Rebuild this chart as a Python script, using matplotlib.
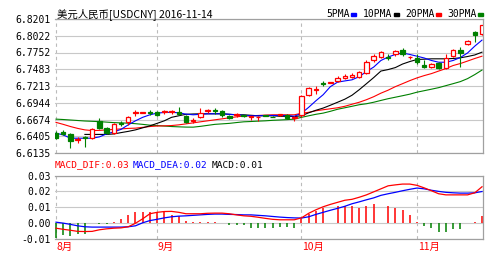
import numpy as np
import matplotlib
matplotlib.use("Agg")
import matplotlib.pyplot as plt
from matplotlib.patches import Rectangle

# ---- data (USDCNY daily, 2016-08-12 .. 2016-11-14) ----
months = ["8月", "9月", "10月", "11月"]
month_start = [0, 14, 34, 50]

opens = [6.6459, 6.6475, 6.6442, 6.6337, 6.6386, 6.6378, 6.6653, 6.6540, 6.6459, 6.6620,
         6.6637, 6.6774, 6.6777, 6.6790, 6.6798, 6.6790, 6.6790, 6.6798, 6.6734, 6.6645,
         6.6717, 6.6806, 6.6823, 6.6815, 6.6734, 6.6742, 6.6742, 6.6709, 6.6713, 6.6739,
         6.6722, 6.6745, 6.6750, 6.6693, 6.6750, 6.7073, 6.7146, 6.7260, 6.7263, 6.7300,
         6.7349, 6.7365, 6.7365, 6.7429, 6.7624, 6.7688, 6.7680, 6.7721, 6.7785, 6.7680,
         6.7672, 6.7559, 6.7527, 6.7591, 6.7510, 6.7704, 6.7785, 6.7882, 6.8077, 6.8044]
highs = [6.6491, 6.6507, 6.6459, 6.6394, 6.6410, 6.6540, 6.6701, 6.6556, 6.6620, 6.6653,
         6.6734, 6.6831, 6.6787, 6.6831, 6.6815, 6.6831, 6.6831, 6.6879, 6.6750, 6.6701,
         6.6863, 6.6847, 6.6863, 6.6831, 6.6750, 6.6782, 6.6750, 6.6734, 6.6726, 6.6742,
         6.6726, 6.6758, 6.6766, 6.6734, 6.7073, 6.7203, 6.7219, 6.7300, 6.7276, 6.7381,
         6.7413, 6.7429, 6.7462, 6.7624, 6.7721, 6.7769, 6.7721, 6.7785, 6.7818, 6.7696,
         6.7721, 6.7624, 6.7591, 6.7607, 6.7721, 6.7802, 6.7834, 6.7947, 6.8093, 6.8201]
lows = [6.6362, 6.6426, 6.6216, 6.6297, 6.6232, 6.6362, 6.6523, 6.6442, 6.6442, 6.6572,
        6.6588, 6.6734, 6.6774, 6.6750, 6.6734, 6.6766, 6.6766, 6.6750, 6.6620, 6.6620,
        6.6701, 6.6782, 6.6766, 6.6717, 6.6685, 6.6717, 6.6717, 6.6669, 6.6653, 6.6726,
        6.6709, 6.6734, 6.6685, 6.6653, 6.6717, 6.7057, 6.7090, 6.7219, 6.7260, 6.7284,
        6.7332, 6.7349, 6.7349, 6.7413, 6.7607, 6.7672, 6.7624, 6.7704, 6.7704, 6.7656,
        6.7575, 6.7510, 6.7510, 6.7494, 6.7494, 6.7688, 6.7527, 6.7866, 6.7915, 6.8028]
closes = [6.6378, 6.6434, 6.6329, 6.6353, 6.6370, 6.6523, 6.6540, 6.6459, 6.6604, 6.6604,
          6.6717, 6.6790, 6.6787, 6.6774, 6.6750, 6.6806, 6.6806, 6.6766, 6.6637, 6.6661,
          6.6782, 6.6823, 6.6806, 6.6750, 6.6701, 6.6758, 6.6726, 6.6726, 6.6722, 6.6729,
          6.6713, 6.6755, 6.6701, 6.6709, 6.7057, 6.7187, 6.7162, 6.7243, 6.7273, 6.7349,
          6.7381, 6.7397, 6.7446, 6.7607, 6.7704, 6.7753, 6.7664, 6.7769, 6.7721, 6.7688,
          6.7607, 6.7527, 6.7575, 6.7510, 6.7672, 6.7785, 6.7737, 6.7931, 6.8028, 6.8195]

ma5 = [6.6454, 6.6426, 6.6373, 6.6373, 6.6373, 6.6373, 6.6394, 6.6442, 6.6475, 6.6515,
       6.6588, 6.6653, 6.6709, 6.6750, 6.6777, 6.6787, 6.6790, 6.6782, 6.6761, 6.6750,
       6.6758, 6.6766, 6.6766, 6.6766, 6.6758, 6.6750, 6.6742, 6.6734, 6.6734, 6.6739,
       6.6739, 6.6739, 6.6739, 6.6726, 6.6774, 6.6871, 6.6976, 6.7073, 6.7203, 6.7276,
       6.7295, 6.7313, 6.7365, 6.7446, 6.7518, 6.7624, 6.7680, 6.7721, 6.7745, 6.7721,
       6.7693, 6.7664, 6.7624, 6.7596, 6.7596, 6.7624, 6.7672, 6.7745, 6.7855, 6.7952]
ma10 = [np.nan, np.nan, np.nan, np.nan, 6.6434, 6.6434, 6.6434, 6.6434, 6.6442, 6.6463,
        6.6483, 6.6507, 6.6540, 6.6572, 6.6612, 6.6653, 6.6709, 6.6734, 6.6758, 6.6763,
        6.6766, 6.6766, 6.6766, 6.6766, 6.6758, 6.6750, 6.6750, 6.6742, 6.6734, 6.6734,
        6.6734, 6.6726, 6.6726, 6.6722, 6.6734, 6.6782, 6.6823, 6.6858, 6.6904, 6.6952,
        6.7001, 6.7065, 6.7154, 6.7251, 6.7349, 6.7454, 6.7478, 6.7510, 6.7567, 6.7607,
        6.7640, 6.7645, 6.7651, 6.7651, 6.7651, 6.7656, 6.7667, 6.7688, 6.7713, 6.7758]
ma20 = [6.6628, 6.6596, 6.6561, 6.6531, 6.6507, 6.6496, 6.6499, 6.6507, 6.6515, 6.6523,
        6.6531, 6.6535, 6.6548, 6.6561, 6.6569, 6.6572, 6.6577, 6.6588, 6.6604, 6.6620,
        6.6637, 6.6653, 6.6669, 6.6685, 6.6701, 6.6717, 6.6729, 6.6734, 6.6739, 6.6745,
        6.6750, 6.6750, 6.6750, 6.6750, 6.6774, 6.6790, 6.6815, 6.6831, 6.6847, 6.6863,
        6.6887, 6.6920, 6.6952, 6.6993, 6.7041, 6.7098, 6.7146, 6.7203, 6.7251, 6.7300,
        6.7344, 6.7381, 6.7413, 6.7454, 6.7494, 6.7543, 6.7575, 6.7615, 6.7656, 6.7693]
ma30 = [6.6680, 6.6674, 6.6666, 6.6658, 6.6650, 6.6645, 6.6640, 6.6632, 6.6624, 6.6620,
        6.6615, 6.6607, 6.6596, 6.6583, 6.6577, 6.6569, 6.6561, 6.6556, 6.6552, 6.6551,
        6.6564, 6.6580, 6.6596, 6.6604, 6.6612, 6.6625, 6.6637, 6.6642, 6.6648, 6.6653,
        6.6661, 6.6666, 6.6672, 6.6680, 6.6709, 6.6734, 6.6758, 6.6777, 6.6806, 6.6839,
        6.6863, 6.6887, 6.6912, 6.6928, 6.6952, 6.6981, 6.7009, 6.7033, 6.7057, 6.7082,
        6.7114, 6.7138, 6.7162, 6.7187, 6.7219, 6.7251, 6.7284, 6.7332, 6.7397, 6.7470]

dif = [-0.0032, -0.0039, -0.0045, -0.0052, -0.0053, -0.0052, -0.0042, -0.0036, -0.0032, -0.0030,
       -0.0023, -0.0001, 0.0027, 0.0059, 0.0068, 0.0073, 0.0074, 0.0068, 0.0059, 0.0059,
       0.0059, 0.0062, 0.0063, 0.0063, 0.0059, 0.0052, 0.0046, 0.0043, 0.0037, 0.0030,
       0.0024, 0.0021, 0.0021, 0.0021, 0.0033, 0.0062, 0.0084, 0.0103, 0.0118, 0.0131,
       0.0144, 0.0150, 0.0163, 0.0178, 0.0197, 0.0216, 0.0235, 0.0241, 0.0246, 0.0246,
       0.0238, 0.0222, 0.0204, 0.0185, 0.0178, 0.0178, 0.0178, 0.0178, 0.0191, 0.0229]
dea = [0.0006, 0.0000, -0.0008, -0.0017, -0.0023, -0.0025, -0.0025, -0.0025, -0.0025, -0.0025,
       -0.0023, -0.0017, 0.0002, 0.0016, 0.0024, 0.0033, 0.0040, 0.0044, 0.0046, 0.0049,
       0.0052, 0.0055, 0.0057, 0.0057, 0.0055, 0.0054, 0.0052, 0.0052, 0.0049, 0.0046,
       0.0042, 0.0038, 0.0035, 0.0033, 0.0032, 0.0040, 0.0055, 0.0068, 0.0081, 0.0093,
       0.0106, 0.0122, 0.0134, 0.0147, 0.0159, 0.0175, 0.0185, 0.0194, 0.0204, 0.0213,
       0.0221, 0.0216, 0.0207, 0.0200, 0.0194, 0.0191, 0.0189, 0.0189, 0.0191, 0.0199]
macd = [-0.0093, -0.0077, -0.0083, -0.0071, -0.0071, 0.0, -0.0008, -0.0008, 0.0010, 0.0025,
        0.0052, 0.0073, 0.0068, 0.0073, 0.0073, 0.0073, 0.0052, 0.0042, 0.0016, 0.0006,
        0.0010, 0.0010, 0.0010, np.nan, -0.0011, -0.0011, -0.0014, -0.0032, -0.0028, -0.0028,
        -0.0028, -0.0025, -0.0025, -0.0028, 0.0024, 0.0059, 0.0078, 0.0095, np.nan, 0.0109,
        0.0106, 0.0105, 0.0096, 0.0105, 0.0120, np.nan, 0.0105, 0.0095, 0.0084, 0.0052,
        0.0010, -0.0017, -0.0032, -0.0059, -0.0053, -0.0036, -0.0036, np.nan, 0.0010, 0.0046]

price_labels = ["6.6135", "6.6405", "6.6674", "6.6944", "6.7213",
                "6.7483", "6.7752", "6.8022", "6.8201"]
macd_labels = ["-0.01", "0.00", "0.01", "0.02", "0.03"]

RED = "#FF0000"
GREEN = "#008000"
BLUE = "#0000FF"
GRID = "#C8C8C8"
FRAME = "#A0A0A0"
MONO = ["DejaVu Sans Mono", "Noto Sans CJK SC"]
CJK = ["Noto Sans CJK SC", "DejaVu Sans"]

W, H = 500, 256
fig = plt.figure(figsize=(W / 100, H / 100), dpi=100)
fig.patch.set_facecolor("white")


def fx(px):
    return px / W


def fy(py):
    return 1 - py / H


ax = fig.add_axes([fx(55), fy(153), fx(428), 134 / H])
ax2 = fig.add_axes([fx(55), fy(239), fx(428), 63.5 / H])

x = np.arange(len(closes))
o, h, l, c = map(np.asarray, (opens, highs, lows, closes))
up = c >= o

step = 0.02696
ax.set_ylim(6.6135, 6.6135 + 8 * step)
ax.set_xlim(-0.14, 59.14)
ax2.set_xlim(-0.14, 59.14)
ax2.set_ylim(-0.01, 0.03)

for a in (ax, ax2):
    a.set_facecolor("white")
    for s in a.spines.values():
        s.set_color(FRAME)
        s.set_linewidth(0.9)
    a.spines["left"].set_visible(False)
    a.tick_params(length=0, pad=3, labelsize=7)
    a.set_xticks([])
    for m in month_start:
        a.axvline(m, color="#BBBBBB", lw=0.8, ls=(0, (3, 3)), zorder=1)

ax.set_yticks([6.6135 + k * step for k in range(9)])
ax.set_yticklabels(price_labels, family=MONO)
ax.grid(axis="y", color=GRID, lw=0.8, zorder=0)

ax2.set_yticks([-0.01, 0.0, 0.01, 0.02, 0.03])
ax2.set_yticklabels(macd_labels, family=MONO)
ax2.grid(axis="y", color=GRID, lw=0.8, zorder=0)

# moving averages
ax.plot(x, ma30, color=GREEN, lw=0.8, zorder=2)
ax.plot(x, ma20, color=RED, lw=0.8, zorder=2)
ax.plot(x, ma10, color="black", lw=0.8, zorder=2)
ax.plot(x, ma5, color=BLUE, lw=0.8, zorder=2)

# candles
ax.vlines(x, l, h, colors=np.where(up, RED, GREEN), lw=0.8, zorder=3)
lo = np.minimum(o, c)
ht = np.abs(c - o)
ax.bar(x[up], ht[up], bottom=lo[up], width=0.62, facecolor="white",
       edgecolor=RED, lw=0.9, zorder=4)
ax.bar(x[~up], ht[~up], bottom=lo[~up], width=0.62, facecolor=GREEN,
       edgecolor=GREEN, lw=0.9, zorder=4)

# MACD panel
mv = np.asarray(macd)
ax2.vlines(x, 0, mv, colors=np.where(mv >= 0, RED, GREEN), lw=1.1, zorder=2)
ax2.plot(x, dea, color=BLUE, lw=0.9, zorder=3)
ax2.plot(x, dif, color=RED, lw=0.9, zorder=3)

# month labels
for m, name in zip(month_start, months):
    ax2.text(m + 0.1, -0.0153, name, color=RED, fontsize=7.5, family=CJK,
             ha="left", va="center", transform=ax2.transData, clip_on=False)

# title and legend
fig.text(fx(57), fy(14), "美元人民币[USDCNY] 2016-11-14", fontsize=7.5,
         family=CJK, va="center", ha="left")
legend = [("5PMA", BLUE, 326), ("10PMA", "black", 363),
          ("20PMA", RED, 405), ("30PMA", GREEN, 447)]
for name, col, px in legend:
    fig.text(fx(px), fy(14), name, fontsize=7, family=MONO,
             va="center", ha="left")
    fig.add_artist(Rectangle((fx(px + len(name) * 5.7 + 2), fy(15.5)), fx(5), 3 / H,
                             transform=fig.transFigure, color=col))

# MACD header
fig.text(fx(55), fy(165), "MACD_DIF:0.03", color=RED, fontsize=6.8, family=MONO, va="center")
fig.text(fx(133), fy(165), "MACD_DEA:0.02", color=BLUE, fontsize=6.8, family=MONO, va="center")
fig.text(fx(212), fy(165), "MACD:0.01", color="black", fontsize=6.8, family=MONO, va="center")

fig.savefig("out.png", dpi=100, facecolor="white")
